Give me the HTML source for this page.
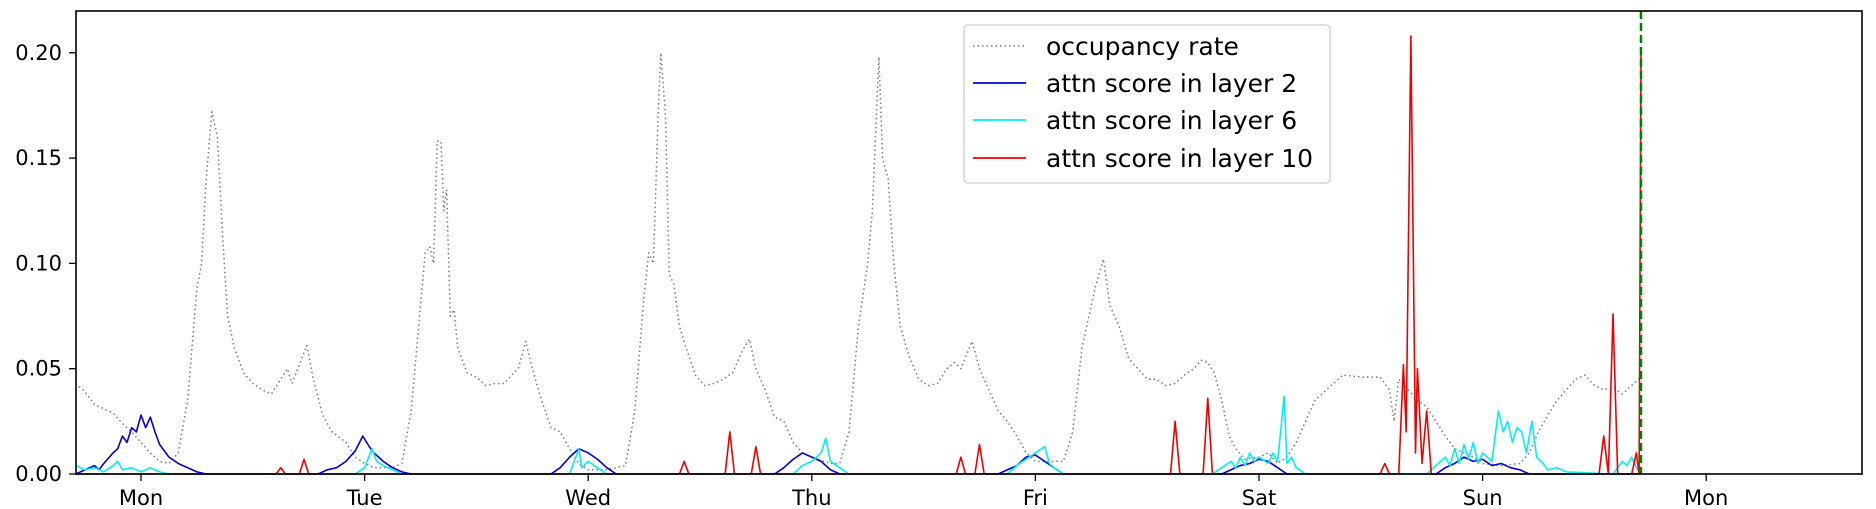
<!DOCTYPE html>
<html><head><meta charset="utf-8"><style>
html,body{margin:0;padding:0;background:#fff;}
svg{display:block;font-family:"DejaVu Sans","Liberation Sans",sans-serif;}
</style></head><body>
<svg id="chart" width="1876" height="509" viewBox="0 0 1876 509" xmlns="http://www.w3.org/2000/svg">
<rect x="0" y="0" width="1876" height="509" fill="#fff"/>
<g id="marks"></g>
<g id="axes"></g>
<g id="legend">
<rect x="964" y="25" width="366" height="158" rx="4" fill="#fff" fill-opacity="0.85" stroke="#ccc" stroke-width="1.3"/>
<g>
<line x1="973" y1="46" x2="1026" y2="46" stroke="#777" stroke-width="1.5" stroke-dasharray="1.5 3"/>
<text x="1046" y="55" font-size="25" fill="#000">occupancy rate</text></g>
<g>
<line x1="973" y1="83" x2="1026" y2="83" stroke="#0000dd" stroke-width="1.8"/>
<text x="1046" y="92" font-size="25" fill="#000">attn score in layer 2</text></g>
<g>
<line x1="973" y1="120" x2="1026" y2="120" stroke="#00f0f0" stroke-width="1.8"/>
<text x="1046" y="129" font-size="25" fill="#000">attn score in layer 6</text></g>
<g>
<line x1="973" y1="158" x2="1026" y2="158" stroke="#ee0000" stroke-width="1.8"/>
<text x="1046" y="167" font-size="25" fill="#000">attn score in layer 10</text></g>
</g>
</svg>
<script>
const dayLabels = ["Mon","Tue","Wed","Thu","Fri","Sat","Sun","Mon"];
const yTicks = [0,0.05,0.10,0.15,0.20];
const yTickLabels = ["0.00","0.05","0.10","0.15","0.20"];
const forecastHour = 161;
const occupancy = [[-7,.043],[-6,.039],[-5,.033],[-4,.031],[-3,.029],[-2,.024],[-1,.02],[0,.015],[1,.01],[2,.006],[3,.005],[4,.01],[5,.035],[6,.088],[6.5,.1],[7,.14],[7.6,.172],[8.2,.16],[8.8,.11],[9.3,.075],[10,.06],[11,.048],[12,.043],[13,.04],[14,.038],[15,.045],[15.7,.05],[16.2,.043],[17,.052],[17.8,.061],[18.5,.045],[19.5,.028],[20.5,.02],[22,.015],[23,.008],[24,.005],
[25,.003],[27,.003],[28,.005],[29,.03],[30,.08],[30.5,.105],[31,.108],[31.4,.1],[31.8,.158],[32.2,.158],[32.5,.125],[32.8,.135],[33.2,.075],[33.6,.078],[34,.06],[35,.048],[36,.046],[37,.042],[38,.043],[39,.043],[40,.048],[40.5,.05],[41.3,.063],[42,.05],[43,.035],[44,.022],[45,.02],[46,.012],[47,.005],[48,.002],
[50,.002],[52,.004],[53,.03],[54,.085],[54.5,.105],[55,.1],[55.5,.17],[55.8,.2],[56.3,.17],[56.7,.095],[57.2,.09],[57.8,.07],[58.5,.06],[59.5,.047],[60.5,.042],[61.5,.043],[62.5,.045],[63.5,.048],[64.5,.058],[65.3,.064],[66,.05],[67,.04],[68,.027],[69,.025],[70,.015],[71,.01],[72,.008],[74,.005],[75,.005],[76,.02],[77,.07],[78,.1],[78.5,.125],[79.2,.198],[79.6,.15],[80.2,.14],[80.8,.1],[81.5,.07],[82.5,.055],[83.5,.045],[84.5,.042],[85.5,.043],[86.5,.05],[87.3,.053],[88,.05],[89.2,.063],[90,.05],[91,.04],[92,.03],[93,.025],[94,.018],[95,.01],[96,.006],[98,.006],[99,.006],[100,.02],[101,.06],[102.5,.09],[103.3,.102],[104,.08],[105,.07],[106,.055],[107,.05],[108,.045],[109,.045],[110,.042],[111,.043],[112,.047],[113,.05],[113.8,.054],[114.5,.053],[115.2,.048],[116,.035],[116.8,.018],[117.5,.012],[118.5,.007],[120,.008],[121,.01],[122,.005],[123,.008],[124,.015],[125,.025],[126,.035],[128,.043],[129,.047],[131,.046],[133,.046],[134,.04],[134.5,.025],[135,.045],[136,.04],[137,.035],[138,.032],[139,.025],[140,.018],[141,.012],[142,.01],[143,.008],[144,.005],[146,.004],[148,.005],[149,.01],[150,.02],[151,.028],[152,.035],[153,.04],[154,.045],[155,.047],[156,.042],[157,.04],[158,.041],[159,.038],[160,.042],[161,.046]];
const layer2 = [[-7,0],[-6,.002],[-5,.004],[-4.5,.002],[-4,.005],[-3,.01],[-2.5,.012],[-2,.018],[-1.5,.015],[-1,.022],[-0.5,.02],[0,.028],[0.5,.022],[1,.027],[1.5,.02],[2,.014],[3,.008],[4,.005],[5,.003],[6,.001],[7,0],[19,0],[20,.002],[21,.003],[22,.006],[23,.011],[23.8,.018],[24.5,.013],[25,.01],[26,.006],[27,.003],[28,.001],[29,0],[44,0],[45,.003],[46,.008],[47,.012],[48,.01],[49,.007],[50,.003],[51,0],[68,0],[69,.003],[70,.007],[71,.01],[72,.008],[73,.006],[74,.002],[75,0],[92,0],[93,.002],[94,.004],[95,.008],[96,.009],[97,.006],[98,.003],[99,0],[116,0],[117,.002],[118,.004],[119,.005],[120,.007],[121,.006],[122,.003],[123,0],[139,0],[140,.003],[141,.005],[142,.008],[143,.006],[144,.007],[145,.004],[146,.005],[147,.003],[148,.002],[149,0],[161,0]];
const layer6 = [[-7,.004],[-6,.002],[-5,.003],[-4,.001],[-3,.004],[-2.5,.006],[-2,.002],[-1,.003],[0,.001],[1,.003],[2,.001],[3,0],[23,0],[24,.003],[24.8,.012],[25.3,.006],[26,.004],[27,.002],[28,0],[46,0],[46.5,.006],[47,.012],[47.3,.003],[48,.006],[49,.003],[50,0],[70,0],[71,.004],[72,.006],[73,.01],[73.5,.017],[74,.006],[75,.003],[76,0],[93,0],[94,.004],[95,.007],[96,.01],[97,.013],[97.5,.005],[98,.003],[99,0],[115,0],[116,.003],[117,.006],[117.5,.003],[118,.008],[118.5,.004],[119,.01],[119.5,.006],[120,.008],[121,.005],[121.5,.01],[122,.006],[122.7,.037],[123,.005],[123.5,.008],[124,.003],[125,0],[138,0],[139,.004],[140,.008],[140.5,.004],[141,.012],[141.5,.005],[142,.014],[142.5,.007],[143,.015],[143.5,.005],[144,.01],[145,.006],[145.7,.03],[146.2,.02],[146.7,.025],[147.2,.015],[147.7,.022],[148.2,.02],[148.7,.01],[149.3,.025],[149.8,.008],[150.5,.005],[151,.002],[152,.003],[153,.001],[158,0],[158.5,.003],[159,.006],[159.5,.004],[160,.008],[160.5,.003],[161,0]];
const layer10 = [[-7,0],[14.5,0],[15,.003],[15.5,0],[17,0],[17.5,.007],[18,0],[57.8,0],[58.3,.006],[58.8,0],[62.7,0],[63.2,.02],[63.7,0],[65.5,0],[66,.013],[66.5,0],[87.5,0],[88,.008],[88.5,0],[89.5,0],[90,.014],[90.5,0],[110.5,0],[111,.025],[111.5,0],[114,0],[114.5,.036],[115,0],[133,0],[133.5,.005],[134,0],[135,0],[135.5,.052],[135.8,.02],[136.3,.208],[136.8,.01],[137,.05],[137.5,.005],[138,.03],[138.5,0],[156.5,0],[157,.018],[157.5,0],[158,.076],[158.5,0],[160,0],[160.5,.01],[160.8,0],[161,.2]];

const NS="http://www.w3.org/2000/svg";
const L=76,R=1862,T=11,B=474;
function xs(h){return 141 + h*(223.6/24);}
function ys(v){return B - v*2106;}
const marks=document.getElementById('marks');
const axes=document.getElementById('axes');
function mk(tag,attrs,parent){const e=document.createElementNS(NS,tag);for(const k in attrs)e.setAttribute(k,attrs[k]);parent.appendChild(e);return e;}
function series(data,color,w,dash,name){
  const p=mk('polyline',{points:data.map(d=>xs(d[0]).toFixed(2)+','+ys(d[1]).toFixed(2)).join(' '),fill:'none',stroke:color,'stroke-width':w,'stroke-linejoin':'round'},marks);
  if(dash)p.setAttribute('stroke-dasharray',dash);
  
  
}
series(occupancy,'#777',1.5,'1.5 3','occupancy-rate-line');
series(layer2,'#0000dd',1.6,null,'attn-layer2-line');
series(layer6,'#00f0f0',1.6,null,'attn-layer6-line');
series(layer10,'#ee0000',1.6,null,'attn-layer10-line');
const g=mk('line',{x1:xs(forecastHour),x2:xs(forecastHour),y1:T,y2:B,stroke:'#008000','stroke-width':2.5,'stroke-dasharray':'8 4'},marks);


const frame=mk('rect',{x:L,y:T,width:R-L,height:B-T,fill:'none',stroke:'#000','stroke-width':1.6},axes);


yTicks.forEach((v,i)=>{
  mk('line',{x1:L-7,x2:L,y1:ys(v),y2:ys(v),stroke:'#000','stroke-width':1.3},axes);
  const t=mk('text',{x:L-14,y:ys(v)+7,'text-anchor':'end','font-size':21,fill:'#000'},axes);
  t.textContent=yTickLabels[i];
  
  
});
dayLabels.forEach((d,i)=>{
  const x=xs(i*24);
  mk('line',{x1:x,x2:x,y1:B,y2:B+7,stroke:'#000','stroke-width':1.3},axes);
  const t=mk('text',{x:x,y:B+31,'text-anchor':'middle','font-size':21,fill:'#000'},axes);
  t.textContent=d;
  
  
});
</script>
</body></html>
